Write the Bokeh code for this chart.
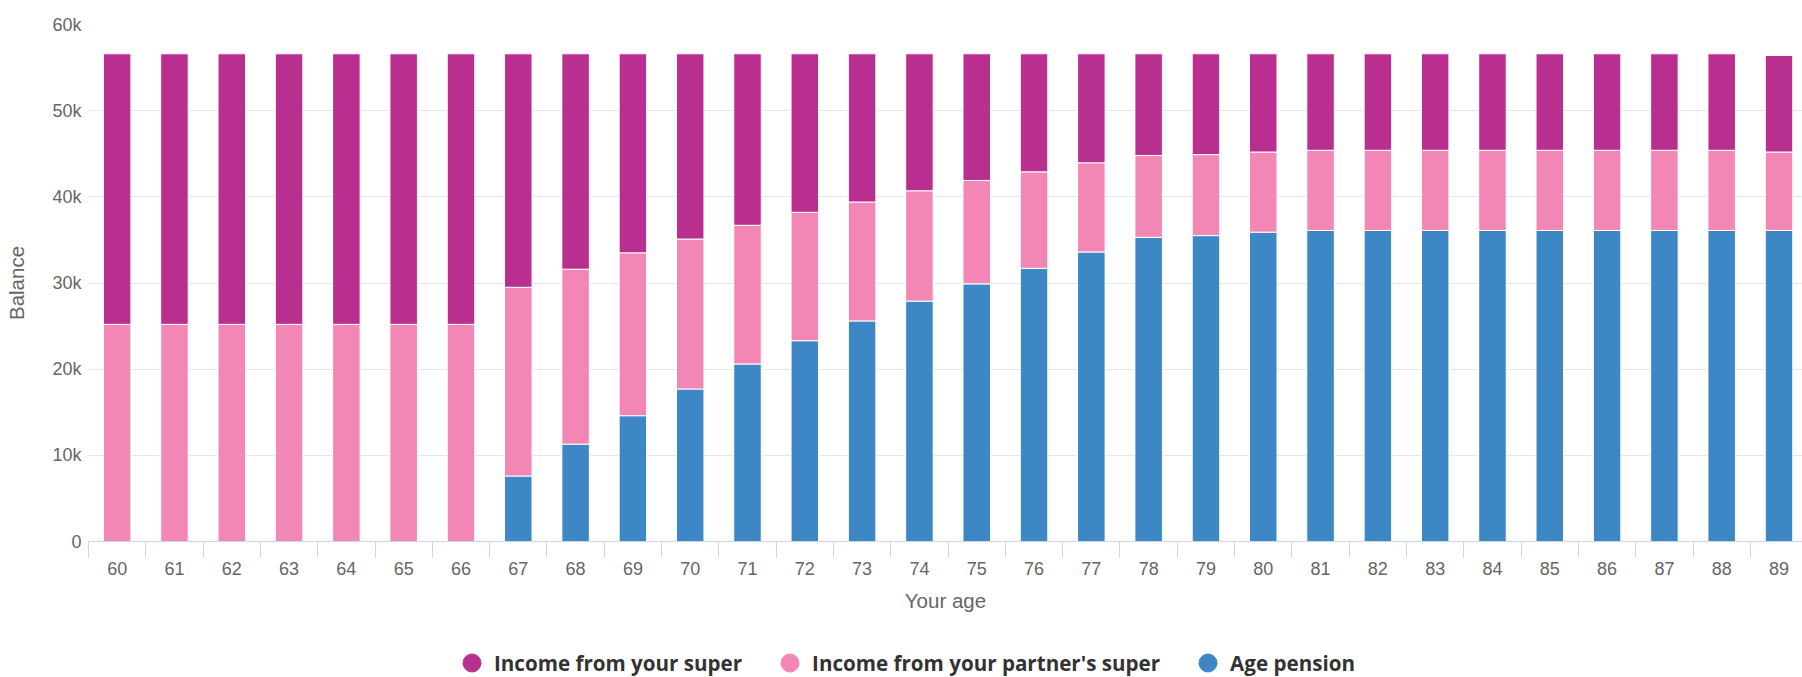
from bokeh.plotting import figure
from bokeh.layouts import column
from bokeh.models import (ColumnDataSource, Range1d, FixedTicker, Legend, LegendItem)
from bokeh.embed import file_html
from bokeh.resources import INLINE

# ---- data (values in dollars) ----
ages = list(range(60, 90))
age_pension = [0, 0, 0, 0, 0, 0, 0,
               7600, 11300, 14600, 17700, 20600, 23300, 25600, 27900, 29900,
               31700, 33600, 35300, 35500, 35900,
               36100, 36100, 36100, 36100, 36100, 36100, 36100, 36100, 36100]
partner_super = [25200, 25200, 25200, 25200, 25200, 25200, 25200,
                 21900, 20300, 18900, 17400, 16100, 14900, 13800, 12800, 12000,
                 11200, 10350, 9500, 9400, 9300,
                 9300, 9300, 9300, 9300, 9300, 9300, 9300, 9300, 9100]
your_super = [31400, 31400, 31400, 31400, 31400, 31400, 31400,
              27100, 25000, 23100, 21500, 19900, 18400, 17200, 15900, 14700,
              13700, 12650, 11800, 11700, 11400,
              11200, 11200, 11200, 11200, 11200, 11200, 11200, 11200, 11200]

series_keys = ["age_pension", "partner_super", "your_super"]
series_names = ["Age pension", "Income from your partner's super", "Income from your super"]
series_colors = ["#3d87c5", "#f287b5", "#b92f8f"]

y_ticks = [0, 10000, 20000, 30000, 40000, 50000, 60000]
y_tick_labels = ["0", "10k", "20k", "30k", "40k", "50k", "60k"]
x_title = "Your age"
y_title = "Balance"

source = ColumnDataSource(dict(age=ages, age_pension=age_pension,
                               partner_super=partner_super, your_super=your_super))

p = figure(width=1802, height=620, output_backend="svg", toolbar_location=None,
           x_range=Range1d(59.5, 89.41), y_range=Range1d(0, 60000),
           min_border_left=88, min_border_right=0, min_border_top=24, min_border_bottom=79)
p.outline_line_color = None
p.background_fill_color = "white"
p.border_fill_color = "white"

p.vbar_stack(series_keys, x="age", width=0.48, source=source,
             fill_color=series_colors, line_color="white", line_width=1)

# x axis
xa = p.xaxis[0]
xa.ticker = FixedTicker(ticks=ages, minor_ticks=[a - 0.5 for a in ages] + [ages[-1] + 0.5])
xa.axis_line_color = "#ccd6eb"
xa.major_tick_line_color = None
xa.major_tick_out = 0
xa.major_tick_in = 0
xa.minor_tick_line_color = "#ccd6eb"
xa.minor_tick_out = 16
xa.minor_tick_in = 0
xa.major_label_standoff = 4
xa.major_label_text_font = "Liberation Sans"
xa.major_label_text_font_size = "18px"
xa.major_label_text_color = "#666666"
xa.axis_label = x_title
xa.axis_label_text_font = "Liberation Sans"
xa.axis_label_text_font_size = "20.5px"
xa.axis_label_text_font_style = "normal"
xa.axis_label_text_color = "#666666"
xa.axis_label_standoff = 11

# y axis
ya = p.yaxis[0]
ya.ticker = FixedTicker(ticks=y_ticks)
ya.major_label_overrides = {t: l for t, l in zip(y_ticks, y_tick_labels)}
ya.axis_line_color = None
ya.major_tick_line_color = None
ya.minor_tick_line_color = None
ya.major_tick_out = 0
ya.major_tick_in = 0
ya.major_label_standoff = 7
ya.major_label_text_font = "Liberation Sans"
ya.major_label_text_font_size = "18px"
ya.major_label_text_color = "#666666"
ya.axis_label = y_title
ya.axis_label_text_font = "Liberation Sans"
ya.axis_label_text_font_size = "20.5px"
ya.axis_label_text_font_style = "normal"
ya.axis_label_text_color = "#666666"
ya.axis_label_standoff = 21

p.xgrid.grid_line_color = None
p.ygrid.grid_line_color = "#e6e6e6"
p.ygrid.grid_line_width = 1
p.ygrid.ticker = FixedTicker(ticks=y_ticks)

# legend strip with circle markers (marker renderers sit outside the strip's ranges,
# they only feed the legend glyphs)
lg = figure(width=1802, height=57, output_backend="svg", toolbar_location=None,
            x_range=Range1d(0, 1), y_range=Range1d(0, 1),
            min_border_left=0, min_border_right=0, min_border_top=0, min_border_bottom=0)
lg.axis.visible = False
lg.grid.visible = False
lg.outline_line_color = None
lg.background_fill_color = "white"
lg.border_fill_color = "white"

items = []
for key, name, color in zip(series_keys[::-1], series_names[::-1], series_colors[::-1]):
    r = lg.scatter(x="age", y=key, source=source, marker="circle",
                   fill_color=color, line_color=color)
    items.append(LegendItem(label=name, renderers=[r]))

legend = Legend(items=items, orientation="horizontal", location=(361, -8),
                glyph_width=45, glyph_height=45, label_standoff=0, spacing=25,
                padding=0, margin=0, border_line_color=None, background_fill_alpha=0,
                label_text_font="Open Sans", label_text_font_style="bold",
                label_text_font_size="20.6px", label_text_color="#333333")
lg.add_layout(legend, "center")

layout = column(p, lg, spacing=0)
open("out.html", "w").write(file_html(layout, INLINE))
